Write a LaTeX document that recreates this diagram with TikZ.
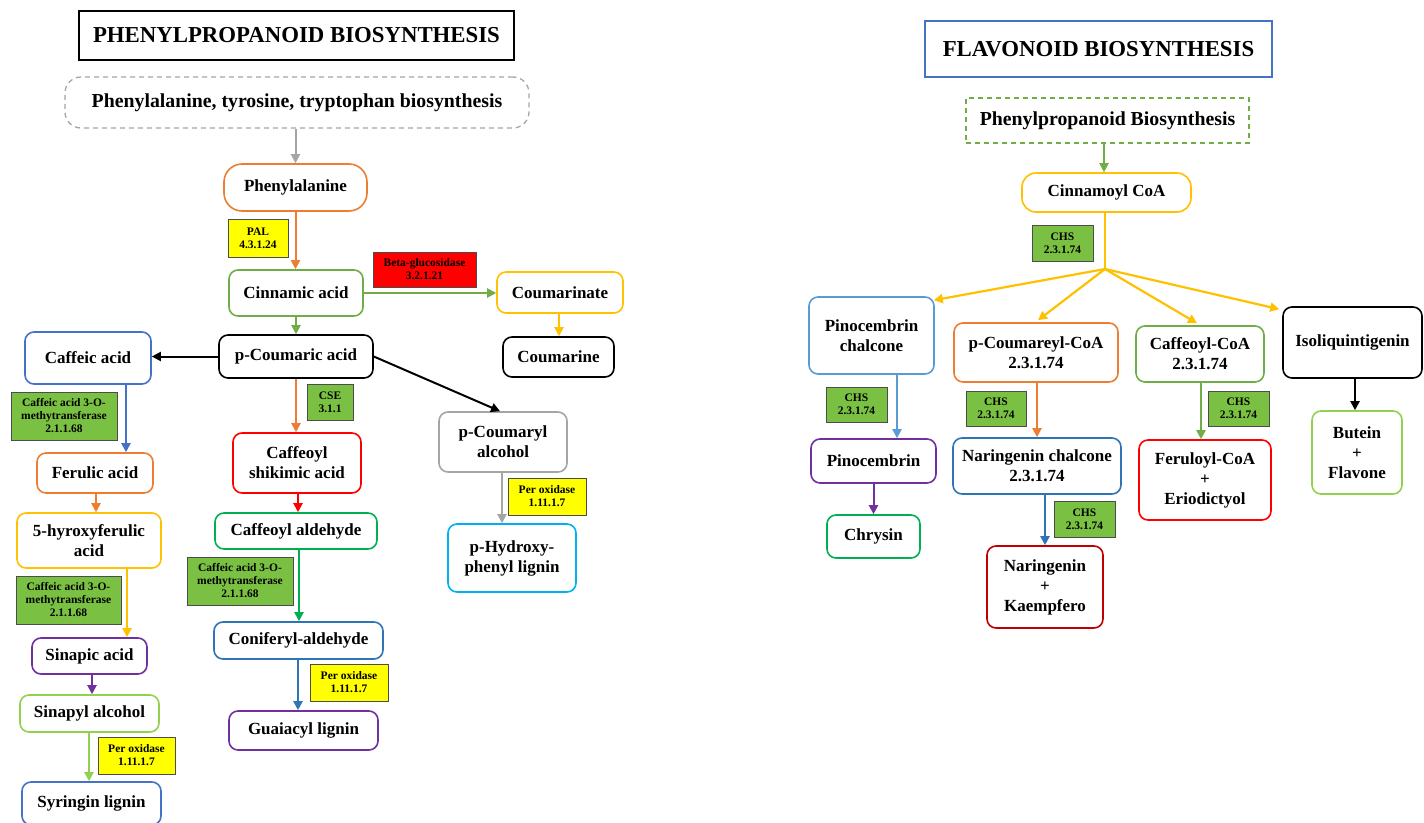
\documentclass[tikz,border=0pt]{standalone}
\usepackage{fontspec}
\setmainfont{Liberation Serif}
\usetikzlibrary{arrows.meta,calc}
\definecolor{orangeC}{HTML}{ED7D31}
\definecolor{greenC}{HTML}{70AD47}
\definecolor{blueC}{HTML}{4472C4}
\definecolor{goldC}{HTML}{FFC000}
\definecolor{grayC}{HTML}{A5A5A5}
\definecolor{purpleC}{HTML}{7030A0}
\definecolor{lgreenC}{HTML}{92D050}
\definecolor{dgreenC}{HTML}{00B050}
\definecolor{cyanC}{HTML}{00B0F0}
\definecolor{midblueC}{HTML}{2E75B6}
\definecolor{lblueC}{HTML}{5B9BD5}
\definecolor{redC}{HTML}{FF0000}
\definecolor{dredC}{HTML}{C00000}
\definecolor{enzgreenC}{HTML}{7AC143}
\definecolor{enzyellowC}{HTML}{FFFF00}
\begin{document}
\begin{tikzpicture}[x=1pt,y=-1pt,
  wh/.style 2 args={minimum width=#1pt,minimum height=#2pt},
  nb/.style={draw, line width=1.6pt, rounded corners=9pt, align=center, inner sep=0pt, fill=white,
    font=\fontsize{17}{20}\selectfont\bfseries},
  enz/.style={draw=black!70, line width=1pt, align=center, inner sep=0pt,
    font=\fontsize{11.5}{13}\selectfont\bfseries},
  ez/.style={enz, fill=enzgreenC},
  ey/.style={enz, fill=enzyellowC},
  ar/.style={line width=2pt, -{Triangle[length=9pt,width=9pt]}},
  ttl/.style={draw, line width=1.8pt, inner sep=0pt, font=\fontsize{22.8}{27}\selectfont\bfseries}
]
\useasboundingbox (0,0) rectangle (1424,822);

% ---------------- Left: Phenylpropanoid ----------------
\node[ttl, wh={435}{49}] (ltitle) at (296.5,35.5) {PHENYLPROPANOID BIOSYNTHESIS};
\node[draw=grayC, dash pattern=on 5pt off 4pt, line width=1.3pt, rounded corners=16pt, wh={464}{51},
  inner sep=0pt, font=\fontsize{19.8}{23}\selectfont\bfseries] (pre) at (297,102.5)
  {Phenylalanine, tyrosine, tryptophan biosynthesis};
\node[nb, draw=orangeC, rounded corners=18pt, wh={143}{47}] (phe) at (295.5,187.5) {Phenylalanine};
\node[ey, wh={60}{38}] (pal) at (258,238) {PAL\\4.3.1.24};
\node[nb, draw=greenC, wh={134}{46}] (cinn) at (296,293) {Cinnamic acid};
\node[enz, fill=redC, wh={103}{35}] (beta) at (424.5,269.5) {Beta-glucosidase\\3.2.1.21};
\node[nb, draw=goldC, wh={126}{41}] (cmate) at (560,292.5) {Coumarinate};
\node[nb, draw=black, wh={111}{40}] (cmine) at (558.5,357) {Coumarine};
\node[nb, draw=black, wh={154}{43}] (pcoum) at (296,356.5) {p-Coumaric acid};
\node[nb, draw=blueC, wh={126}{52}] (caffeic) at (88,358) {Caffeic acid};
\node[ez, wh={106}{48}] (enz1) at (64,416) {Caffeic acid 3-O-\\methytransferase\\2.1.1.68};
\node[nb, draw=orangeC, wh={116}{40}] (ferulic) at (95,473) {Ferulic acid};
\node[nb, draw=goldC, wh={144}{55}] (hydroxy) at (89,540.5) {5-hyroxyferulic\\acid};
\node[ez, wh={105}{48}] (enz2) at (68.5,600) {Caffeic acid 3-O-\\methytransferase\\2.1.1.68};
\node[nb, draw=purpleC, wh={115}{36}] (sinapic) at (89.5,656) {Sinapic acid};
\node[nb, draw=lgreenC, wh={139}{37}] (sinapyl) at (89.5,713.5) {Sinapyl alcohol};
\node[ey, wh={77}{37}] (per1) at (136.5,755.5) {Per oxidase\\1.11.1.7};
\node[nb, draw=blueC, wh={139}{43}] (syr) at (91.5,803.5) {Syringin lignin};
\node[ez, wh={46}{36}] (cse) at (330,402) {CSE\\3.1.1};
\node[nb, draw=redC, wh={128}{60}] (shik) at (297,463) {Caffeoyl\\shikimic acid};
\node[nb, draw=dgreenC, wh={162}{36}] (cald) at (296,531) {Caffeoyl aldehyde};
\node[ez, wh={106}{48}] (enz3) at (240,581) {Caffeic acid 3-O-\\methytransferase\\2.1.1.68};
\node[nb, draw=midblueC, wh={169}{37}] (conif) at (298.5,640.5) {Coniferyl-aldehyde};
\node[ey, wh={78}{37}] (per2) at (349,682.5) {Per oxidase\\1.11.1.7};
\node[nb, draw=purpleC, wh={149}{39}] (guai) at (303.5,730.5) {Guaiacyl lignin};
\node[nb, draw=grayC, wh={128}{60}] (pcalc) at (503,442) {p-Coumaryl\\alcohol};
\node[ey, wh={78}{37}] (per3) at (547,496.5) {Per oxidase\\1.11.1.7};
\node[nb, draw=cyanC, wh={128}{68}] (phl) at (512,558) {p-Hydroxy-\\phenyl lignin};

\draw[ar, grayC] (pre.south -| phe.north) -- (phe.north);
\draw[ar, orangeC] (phe.south) -- (phe.south |- cinn.north);
\draw[ar, greenC] (cinn.east) -- (cinn.east -| cmate.west);
\draw[ar, goldC] (cmate.south -| 559,0) -- (cmine.north -| 559,0);
\draw[ar, greenC] (cinn.south) -- (cinn.south |- pcoum.north);
\draw[ar, black] (pcoum.west) -- (pcoum.west -| caffeic.east);
\draw[ar, blueC] (caffeic.south -| 126,0) -- (ferulic.north -| 126,0);
\draw[ar, orangeC] (ferulic.south -| 96,0) -- (hydroxy.north -| 96,0);
\draw[ar, goldC] (hydroxy.south -| 127,0) -- (sinapic.north -| 127,0);
\draw[ar, purpleC] (sinapic.south -| 92,0) -- (sinapyl.north -| 92,0);
\draw[ar, lgreenC] (sinapyl.south -| 89,0) -- (syr.north -| 89,0);
\draw[ar, orangeC] (pcoum.south) -- (pcoum.south |- shik.north);
\draw[ar, redC] (shik.south -| 298,0) -- (cald.north -| 298,0);
\draw[ar, dgreenC] (cald.south -| 299,0) -- (conif.north -| 299,0);
\draw[ar, midblueC] (conif.south -| 298,0) -- (guai.north -| 298,0);
\draw[ar, black] (pcoum.east) -- ($(pcalc.north)+(-3,0)$);
\draw[ar, grayC] (pcalc.south -| 502,0) -- (phl.north -| 502,0);

% ---------------- Right: Flavonoid ----------------
\node[ttl, draw=blueC, wh={347}{56}] (rtitle) at (1098.5,49) {FLAVONOID BIOSYNTHESIS};
\node[draw=greenC, dash pattern=on 5pt off 4pt, line width=1.5pt, wh={283}{45}, inner sep=0pt,
  font=\fontsize{19.8}{23}\selectfont\bfseries] (fpre) at (1107.5,120.5) {Phenylpropanoid Biosynthesis};
\node[nb, draw=goldC, rounded corners=14pt, wh={169}{39}] (cnm) at (1106.5,192.5) {Cinnamoyl CoA};
\node[ez, wh={61}{36}] (chs0) at (1062.5,243) {CHS\\2.3.1.74};
\coordinate (jn) at (1105,269);
\node[nb, draw=lblueC, wh={125}{77}] (pinoch) at (871.5,335.5) {Pinocembrin\\chalcone};
\node[nb, draw=orangeC, wh={164}{59}] (pcoa) at (1036,352.5) {p-Coumareyl-CoA\\2.3.1.74};
\node[nb, draw=greenC, wh={128}{56}] (cafcoa) at (1200,354) {Caffeoyl-CoA\\2.3.1.74};
\node[nb, draw=black, wh={139}{71}] (isoliq) at (1352.5,342.5) {\raisebox{4pt}{Isoliquintigenin}};
\node[ez, wh={61}{35}] (chs1) at (856.5,404.5) {CHS\\2.3.1.74};
\node[nb, draw=purpleC, wh={125}{44}] (pino) at (873.5,461) {Pinocembrin};
\node[nb, draw=dgreenC, wh={93}{43}] (chry) at (873.5,536.5) {Chrysin};
\node[ez, wh={60}{35}] (chs2) at (996,408.5) {CHS\\2.3.1.74};
\node[nb, draw=midblueC, wh={168}{56}] (narch) at (1037,466) {Naringenin chalcone\\2.3.1.74};
\node[ez, wh={61}{36}] (chs3) at (1084.5,519) {CHS\\2.3.1.74};
\node[nb, draw=dredC, wh={116}{82}] (nark) at (1045,587) {Naringenin\\+\\Kaempfero};
\node[ez, wh={61}{35}] (chs4) at (1238.5,408.5) {CHS\\2.3.1.74};
\node[nb, draw=redC, wh={132}{80}] (ferc) at (1205,480) {Feruloyl-CoA\\+\\Eriodictyol};
\node[nb, draw=lgreenC, wh={90}{83}] (butein) at (1357,452.5) {Butein\\+\\Flavone};

\draw[ar, greenC] (fpre.south -| 1104,0) -- (cnm.north -| 1104,0);
\draw[goldC, line width=2.2pt] (cnm.south -| jn) -- (jn);
\draw[ar, goldC, line width=2.2pt] (jn) -- ($(pinoch.north east)+(-1,4)$);
\draw[ar, goldC, line width=2.2pt] (jn) -- ($(pcoa.north)+(2,-2)$);
\draw[ar, goldC, line width=2.2pt] (jn) -- ($(cafcoa.north)+(-3,-2)$);
\draw[ar, goldC, line width=2.2pt] (jn) -- ($(isoliq.north west)+(-3,3)$);
\draw[ar, lblueC] (pinoch.south -| 897,0) -- (pino.north -| 897,0);
\draw[ar, purpleC] (pino.south) -- (pino.south |- chry.north);
\draw[ar, orangeC] (pcoa.south -| 1037,0) -- (narch.north -| 1037,0);
\draw[ar, midblueC] (narch.south -| 1045,0) -- (nark.north -| 1045,0);
\draw[ar, greenC] (cafcoa.south -| 1201,0) -- (ferc.north -| 1201,0);
\draw[ar, black] (isoliq.south -| 1355,0) -- (butein.north -| 1355,0);
\end{tikzpicture}
\end{document}
